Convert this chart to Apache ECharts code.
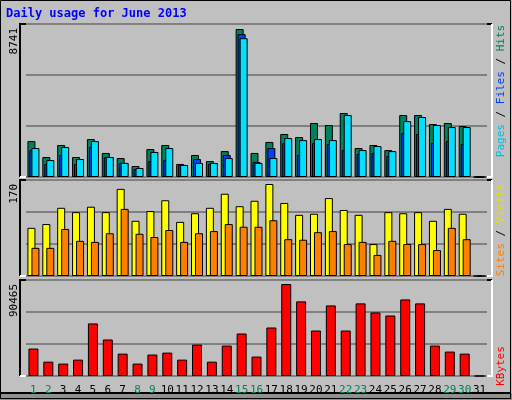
<!DOCTYPE html>
<html><head><meta charset="utf-8">
<script src="https://cdn.jsdelivr.net/npm/echarts@6/dist/echarts.min.js"></script>
<style>html,body{margin:0;padding:0;background:#c0c0c0}#c{width:512px;height:400px}</style>
</head><body><div id="c"></div>
<script>
const days = Array.from({length:31},(_,i)=>String(i+1));
const weekendDays = ['1','2','8','9','15','16','22','23','29','30'];
const hits  = [2120,1180,1890,1180,2240,1420,1120,650,1650,1890,770,1300,940,1530,8741,1420,2070,2540,2360,3190,3070,3780,1710,1890,1590,3660,3660,3130,3190,3010,0];
const files = [1590,770,1300,770,1770,1180,830,470,940,1000,710,1060,770,1300,8440,890,1710,2010,1300,2010,1950,1590,1360,1420,1240,2600,2540,2010,2120,1950,0];
const pages = [1710,1000,1770,1060,2120,1180,830,530,1480,1710,710,830,830,1120,8200,830,1120,2300,2180,2240,2180,3660,1590,1830,1530,3300,3540,3070,2950,2950,0];
const visits = [89,96,126,118,128,118,161,102,120,140,100,116,126,152,129,139,170,135,113,115,144,122,113,59,118,116,118,102,124,115,0];
const sites  = [52,52,87,65,63,79,124,78,72,85,63,79,83,96,91,91,103,68,67,81,83,59,63,39,65,59,59,48,89,68,0];
const kbytes = [27000,14100,12200,16100,51700,35900,22000,12200,21100,23000,16100,30900,14100,29900,41800,19100,47700,90465,73400,44700,69400,44700,71400,62500,59500,75300,71400,29900,24000,22000,0];
const maxLabels = ['8741','170','90465'];
const maxValues = [8741,170,90465];

const panels = [{top:24,h:153,fill:148},{top:180,h:96,fill:92},{top:280,h:96,fill:92}];
const L=26,R=25;
const grids = panels.map(p=>({left:L,right:R,top:p.top,height:p.h,show:false}));
const xAxes = panels.map((p,i)=>({type:'category',gridIndex:i,data:days,
  axisLine:{show:false},axisTick:{show:false},
  axisLabel:{show:i===2,fontFamily:'DejaVu Sans Mono',fontSize:11,margin:9,interval:0,
    color:v=>weekendDays.includes(v)?'#008060':'#000'}}));
const yAxes = panels.map((p,i)=>{const mx=maxValues[i]*p.h/p.fill;return {type:'value',gridIndex:i,min:0,max:mx,interval:mx/3,
  axisLabel:{show:false},axisLine:{show:false},axisTick:{show:false},
  splitLine:{show:true,lineStyle:{color:'#808080',width:2}}};});
const bs = {borderColor:'#000',borderWidth:1};
const series = [
 {type:'bar',xAxisIndex:0,yAxisIndex:0,data:hits,barWidth:8,barGap:'-75%',itemStyle:{color:'#00805c',...bs}},
 {type:'bar',xAxisIndex:0,yAxisIndex:0,data:files,barWidth:8,barGap:'-75%',itemStyle:{color:'#0040ff',...bs}},
 {type:'bar',xAxisIndex:0,yAxisIndex:0,data:pages,barWidth:8,barGap:'-75%',itemStyle:{color:'#00e0ff',...bs}},
 {type:'bar',xAxisIndex:1,yAxisIndex:1,data:visits,barWidth:8,barGap:'-50%',itemStyle:{color:'#ffff00',...bs}},
 {type:'bar',xAxisIndex:1,yAxisIndex:1,data:sites,barWidth:8,barGap:'-50%',itemStyle:{color:'#ff8000',...bs}},
 {type:'bar',xAxisIndex:2,yAxisIndex:2,data:kbytes,barWidth:10,itemStyle:{color:'#ff0000',...bs}}
];
const g=[];
g.push({type:'rect',shape:{x:0.5,y:0.5,width:510,height:398},style:{fill:null,stroke:'#000',lineWidth:1},z:-1});
g.push({type:'rect',shape:{x:0,y:393,width:512,height:7},style:{fill:'#909090'},z:-2});
g.push({type:'polyline',shape:{points:[[0,393],[511,393]]},style:{stroke:'#000',lineWidth:2},z:-1});
panels.forEach(p=>{
  g.push({type:'polyline',shape:{points:[[20,p.top+p.h],[20,p.top],[492,p.top]]},style:{stroke:'#000',lineWidth:2,fill:null},z:-1});
  g.push({type:'polyline',shape:{points:[[492,p.top],[492,p.top+p.h],[20,p.top+p.h]]},style:{stroke:'#fff',lineWidth:2,fill:null},z:-1});
});
g.push({type:'text',left:6,top:8,style:{text:'Daily usage for June 2013',fill:'#0000ff',font:'bold 12px "DejaVu Sans Mono"'}});
panels.forEach((p,i)=>{
  g.push({type:'text',x:14,y:p.top+4,rotation:Math.PI/2,style:{text:maxLabels[i],fill:'#000',font:'11px "DejaVu Sans Mono"',textAlign:'right',textVerticalAlign:'middle'}});
});
function rlabel(y,parts){
  g.push({type:'text',x:501,y:y,rotation:Math.PI/2,style:{
    text:parts.map((p,i)=>'{s'+i+'|'+p[0]+'}').join(''),
    rich:Object.fromEntries(parts.map((p,i)=>['s'+i,{fill:p[1],font:'11px "DejaVu Sans Mono"'}])),
    textAlign:'center',textVerticalAlign:'middle'}});
}
rlabel(91,[['Pages','#00c0e0'],[' / ','#000'],['Files','#0040ff'],[' / ','#000'],['Hits','#008060']]);
rlabel(230,[['Sites','#ff8000'],[' / ','#000'],['Visits','#e0e000']]);
rlabel(366,[['KBytes','#ff0000']]);
const chart=echarts.init(document.getElementById('c'));
chart.setOption({animation:false,backgroundColor:'#c0c0c0',grid:grids,xAxis:xAxes,yAxis:yAxes,series,graphic:g});
</script></body></html>
